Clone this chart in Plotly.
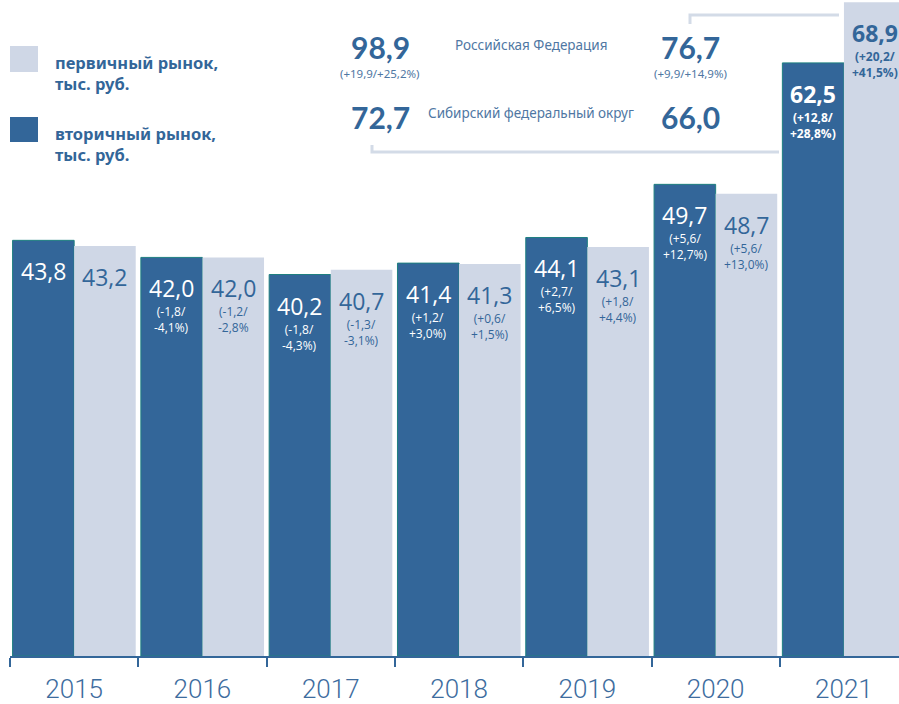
import plotly.graph_objects as go

years = ['2015', '2016', '2017', '2018', '2019', '2020', '2021']
secondary = [43.8, 42.0, 40.2, 41.4, 44.1, 49.7, 62.5]   # вторичный рынок
primary = [43.2, 42.0, 40.7, 41.3, 43.1, 48.7, 68.9]     # первичный рынок
secondary_change = ['', '(-1,8/<br>-4,1%)', '(-1,8/<br>-4,3%)', '(+1,2/<br>+3,0%)',
                    '(+2,7/<br>+6,5%)', '(+5,6/<br>+12,7%)', '(+12,8/<br>+28,8%)']
primary_change = ['', '(-1,2/<br>-2,8%', '(-1,3/<br>-3,1%)', '(+0,6/<br>+1,5%)',
                  '(+1,8/<br>+4,4%)', '(+5,6/<br>+13,0%)', '(+20,2/<br>+41,5%)']

regions = ['Российская Федерация', 'Сибирский федеральный округ']
region_primary = [98.9, 72.7]
region_primary_change = ['(+19,9/+25,2%)', '']
region_secondary = [76.7, 66.0]
region_secondary_change = ['(+9,9/+14,9%)', '']

legend_labels = ['первичный рынок,<br>тыс. руб.', 'вторичный рынок,<br>тыс. руб.']

DARK = '#336699'
LIGHT = '#cfd7e6'
TEXT = '#336699'
W, H = 899, 704
L, T, B = 10, 0, 48
PW = W - L
PH = H - T - B
CAT = 128.3
BARGAP = 0.04
HALF = (1 - BARGAP) / 4


def fmt(v):
    return f"{v:.1f}".replace('.', ',')


def px(x):
    return (x - L) / PW


def py(y):
    return (T + PH - y) / PH


fig = go.Figure()
fig.add_trace(go.Bar(x=years, y=secondary, marker=dict(color=DARK, line=dict(color='#1f8080', width=1)),
                     showlegend=False, hoverinfo='skip'))
fig.add_trace(go.Bar(x=years, y=primary, marker=dict(color=LIGHT, line=dict(width=0)),
                     showlegend=False, hoverinfo='skip'))

ann = []
for i, y in enumerate(years):
    bold = (y == '2021')
    for vals, chg, off, col in ((secondary, secondary_change, -HALF, 'white'),
                                (primary, primary_change, HALF, TEXT)):
        v = vals[i]
        txt = fmt(v)
        if bold:
            txt = '<b>' + txt + '</b>'
        ann.append(dict(x=i + off, y=v, xref='x', yref='y', text=txt, showarrow=False,
                        yanchor='middle', yshift=-31,
                        font=dict(family='Open Sans', size=23, color=col)))
        if chg[i]:
            t = chg[i]
            if bold:
                t = '<b>' + t + '</b>'
            ann.append(dict(x=i + off, y=v, xref='x', yref='y', text=t, showarrow=False,
                            yanchor='top', yshift=-44,
                            font=dict(family='Open Sans', size=12, color=col)))

# headline block
rows_y = [47, 117]
for k in range(2):
    ann.append(dict(x=px(380), y=py(rows_y[k]), xref='paper', yref='paper',
                    text='<b>' + fmt(region_primary[k]) + '</b>', showarrow=False,
                    xanchor='center', yanchor='middle',
                    font=dict(family='Lato, Open Sans', size=30, color=TEXT)))
    ann.append(dict(x=px(690), y=py(rows_y[k]), xref='paper', yref='paper',
                    text='<b>' + fmt(region_secondary[k]) + '</b>', showarrow=False,
                    xanchor='center', yanchor='middle',
                    font=dict(family='Lato, Open Sans', size=30, color=TEXT)))
    ann.append(dict(x=px(531), y=py(rows_y[k] - 2 - 2 * k), xref='paper', yref='paper',
                    text=regions[k], showarrow=False, xanchor='center', yanchor='middle',
                    font=dict(family='Noto Sans', size=13.5, color='#4f77a3')))
    if region_primary_change[k]:
        ann.append(dict(x=px(380), y=py(73), xref='paper', yref='paper',
                        text=region_primary_change[k], showarrow=False,
                        xanchor='center', yanchor='middle',
                        font=dict(family='Noto Sans', size=11.5, color='#4f77a3')))
    if region_secondary_change[k]:
        ann.append(dict(x=px(690), y=py(73), xref='paper', yref='paper',
                        text=region_secondary_change[k], showarrow=False,
                        xanchor='center', yanchor='middle',
                        font=dict(family='Noto Sans', size=11.5, color='#4f77a3')))

# legend
leg_y = [[46, 72, 73], [117, 142, 144]]
leg_cols = [LIGHT, DARK]
shapes = []
for k in range(2):
    y0, y1, ty = leg_y[k]
    shapes.append(dict(type='rect', xref='paper', yref='paper', x0=px(10), x1=px(38),
                       y0=py(y1), y1=py(y0), fillcolor=leg_cols[k], line=dict(width=0)))
    ann.append(dict(x=px(53), y=py(ty), xref='paper', yref='paper', text='<b>' + legend_labels[k] + '</b>',
                    showarrow=False, xanchor='left', yanchor='middle', align='left',
                    font=dict(family='Noto Sans', size=16.5, color=TEXT)))

# bracket lines
LC = '#d3dbe7'
shapes.append(dict(type='path', xref='paper', yref='paper',
                   path=f"M {px(372)} {py(145)} L {px(372)} {py(152)} L {px(779)} {py(152)}",
                   line=dict(color=LC, width=3)))
shapes.append(dict(type='path', xref='paper', yref='paper',
                   path=f"M {px(690)} {py(24)} L {px(690)} {py(15)} L {px(839)} {py(15)}",
                   line=dict(color=LC, width=3)))

fig.update_layout(
    width=W, height=H,
    margin=dict(l=L, r=0, t=T, b=B),
    paper_bgcolor='white', plot_bgcolor='white',
    barmode='group', bargap=BARGAP, bargroupgap=0,
    annotations=ann, shapes=shapes,
    xaxis=dict(range=[-0.5, -0.5 + PW / CAT], showline=True, linecolor=DARK, linewidth=1.5,
               ticks='outside', tickson='boundaries', ticklen=9, tickcolor=DARK, tickwidth=1.5,
               showgrid=False, zeroline=False, ticklabelstandoff=9, automargin=False,
               tickfont=dict(family='Roboto Light, Roboto, sans-serif',
                             size=26, weight=300, color='#3d6c9e')),
    yaxis=dict(range=[0, PH / 9.49], visible=False, showgrid=False, automargin=False),
)

fig.write_html('out.html', config={'displayModeBar': False},
               post_script="document.body.style.margin='0';document.body.style.overflow='hidden';")
